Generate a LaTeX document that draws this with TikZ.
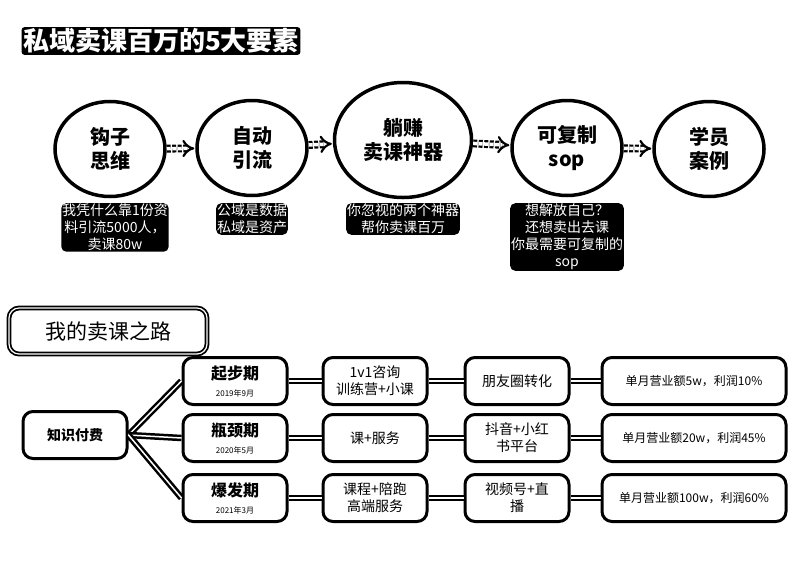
\documentclass[tikz,border=0pt]{standalone}
\usepackage{fontspec}
\setmainfont{Noto Sans CJK SC}
\usetikzlibrary{shapes.geometric,arrows.meta,positioning}

\tikzset{
  idea/.style={ellipse, draw, line width=3.5pt, minimum width=110pt, minimum height=95pt, align=center, font=\fontsize{20}{24}\selectfont\bfseries},
  hint/.style={fill=black, text=white, rounded corners=5pt, inner sep=0.8pt, align=center, font=\fontsize{14}{17}\selectfont},
  flow/.style={draw, double=white, double distance=3.5pt, line width=2.2pt, dash pattern=on 4pt off 1.5pt, -{Implies}, shorten >=1pt},
  stage/.style={draw, line width=3pt, rounded corners=10pt, minimum width=104pt, minimum height=47pt, align=center, font=\fontsize{14}{17}\selectfont},
  link/.style={draw, double=white, double distance=1.5pt, line width=2.5pt},
}

\begin{document}
\begin{tikzpicture}[x=1pt,y=-1pt]
    \useasboundingbox (0,0) rectangle (791,579);
    \node[fill=black, text=white, rounded corners=3pt, inner sep=1.5pt, font=\fontsize{26}{28}\selectfont\bfseries] (title) at (161,41) {私域卖课百万的5大要素};

    \node[idea] (hook) at (110,149) {钩子\\思维};
    \node[idea] (auto) at (252,148) {自动\\引流};
    \node[idea, minimum width=137pt, minimum height=115pt] (tool) at (403,140) {躺赚\\卖课神器};
    \node[idea] (sop) at (567,148) {可复制\\sop};
    \node[idea] (case) at (709,149) {学员\\案例};
    \node[hint, anchor=north] (hookhint) at (115,203) {我凭什么靠1份资\\料引流5000人，\\卖课80w};
    \node[hint, anchor=north] (autohint) at (252,203) {公域是数据\\私域是资产};
    \node[hint, anchor=north] (toolhint) at (403,203) {你忽视的两个神器\\帮你卖课百万};
    \node[hint, anchor=north] (sophint) at (567,203) {想解放自己？\\还想卖出去课\\你最需要可复制的\\sop};
    \path (hook) edge[flow] (auto);
    \path (auto) edge[flow] (tool);
    \path (tool) edge[flow] (sop);
    \path (sop) edge[flow] (case);

    \node[draw, double, double distance=1.2pt, line width=1.8pt, rounded corners=10pt, minimum width=198pt, minimum height=46pt, font=\fontsize{21}{24}\selectfont] (road) at (108,331) {我的卖课之路};

    \node[stage] (root) at (75,435) {\bfseries 知识付费};
    \node[stage] (s1) at (235,381) {{\fontsize{16}{18}\selectfont\bfseries 起步期}\\{\fontsize{8}{10}\selectfont 2019年9月}};
    \node[stage] (s2) at (235,438) {{\fontsize{16}{18}\selectfont\bfseries 瓶颈期}\\{\fontsize{8}{10}\selectfont 2020年5月}};
    \node[stage] (s3) at (235,498) {{\fontsize{16}{18}\selectfont\bfseries 爆发期}\\{\fontsize{8}{10}\selectfont 2021年3月}};
    \node[stage] (c1) at (375,381) {1v1咨询\\训练营+小课};
    \node[stage] (c2) at (375,438) {课+服务};
    \node[stage] (c3) at (375,498) {课程+陪跑\\高端服务};
    \node[stage] (w1) at (517,381) {朋友圈转化};
    \node[stage] (w2) at (517,438) {抖音+小红\\书平台};
    \node[stage] (w3) at (517,498) {视频号+直\\播};
    \node[stage, minimum width=184pt, font=\fontsize{12}{15}\selectfont] (m1) at (694,381) {单月营业额5w，利润10\%};
    \node[stage, minimum width=184pt, font=\fontsize{12}{15}\selectfont] (m2) at (694,438) {单月营业额20w，利润45\%};
    \node[stage, minimum width=184pt, font=\fontsize{12}{15}\selectfont] (m3) at (694,498) {单月营业额100w，利润60\%};
    \path (root.east) edge[link] (s1.west);
    \path (root.east) edge[link] (s2.west);
    \path (root.east) edge[link] (s3.west);
    \path (s1) edge[link] (c1);
    \path (s2) edge[link] (c2);
    \path (s3) edge[link] (c3);
    \path (c1) edge[link] (w1);
    \path (c2) edge[link] (w2);
    \path (c3) edge[link] (w3);
    \path (w1) edge[link] (m1);
    \path (w2) edge[link] (m2);
    \path (w3) edge[link] (m3);
\end{tikzpicture}
\end{document}
